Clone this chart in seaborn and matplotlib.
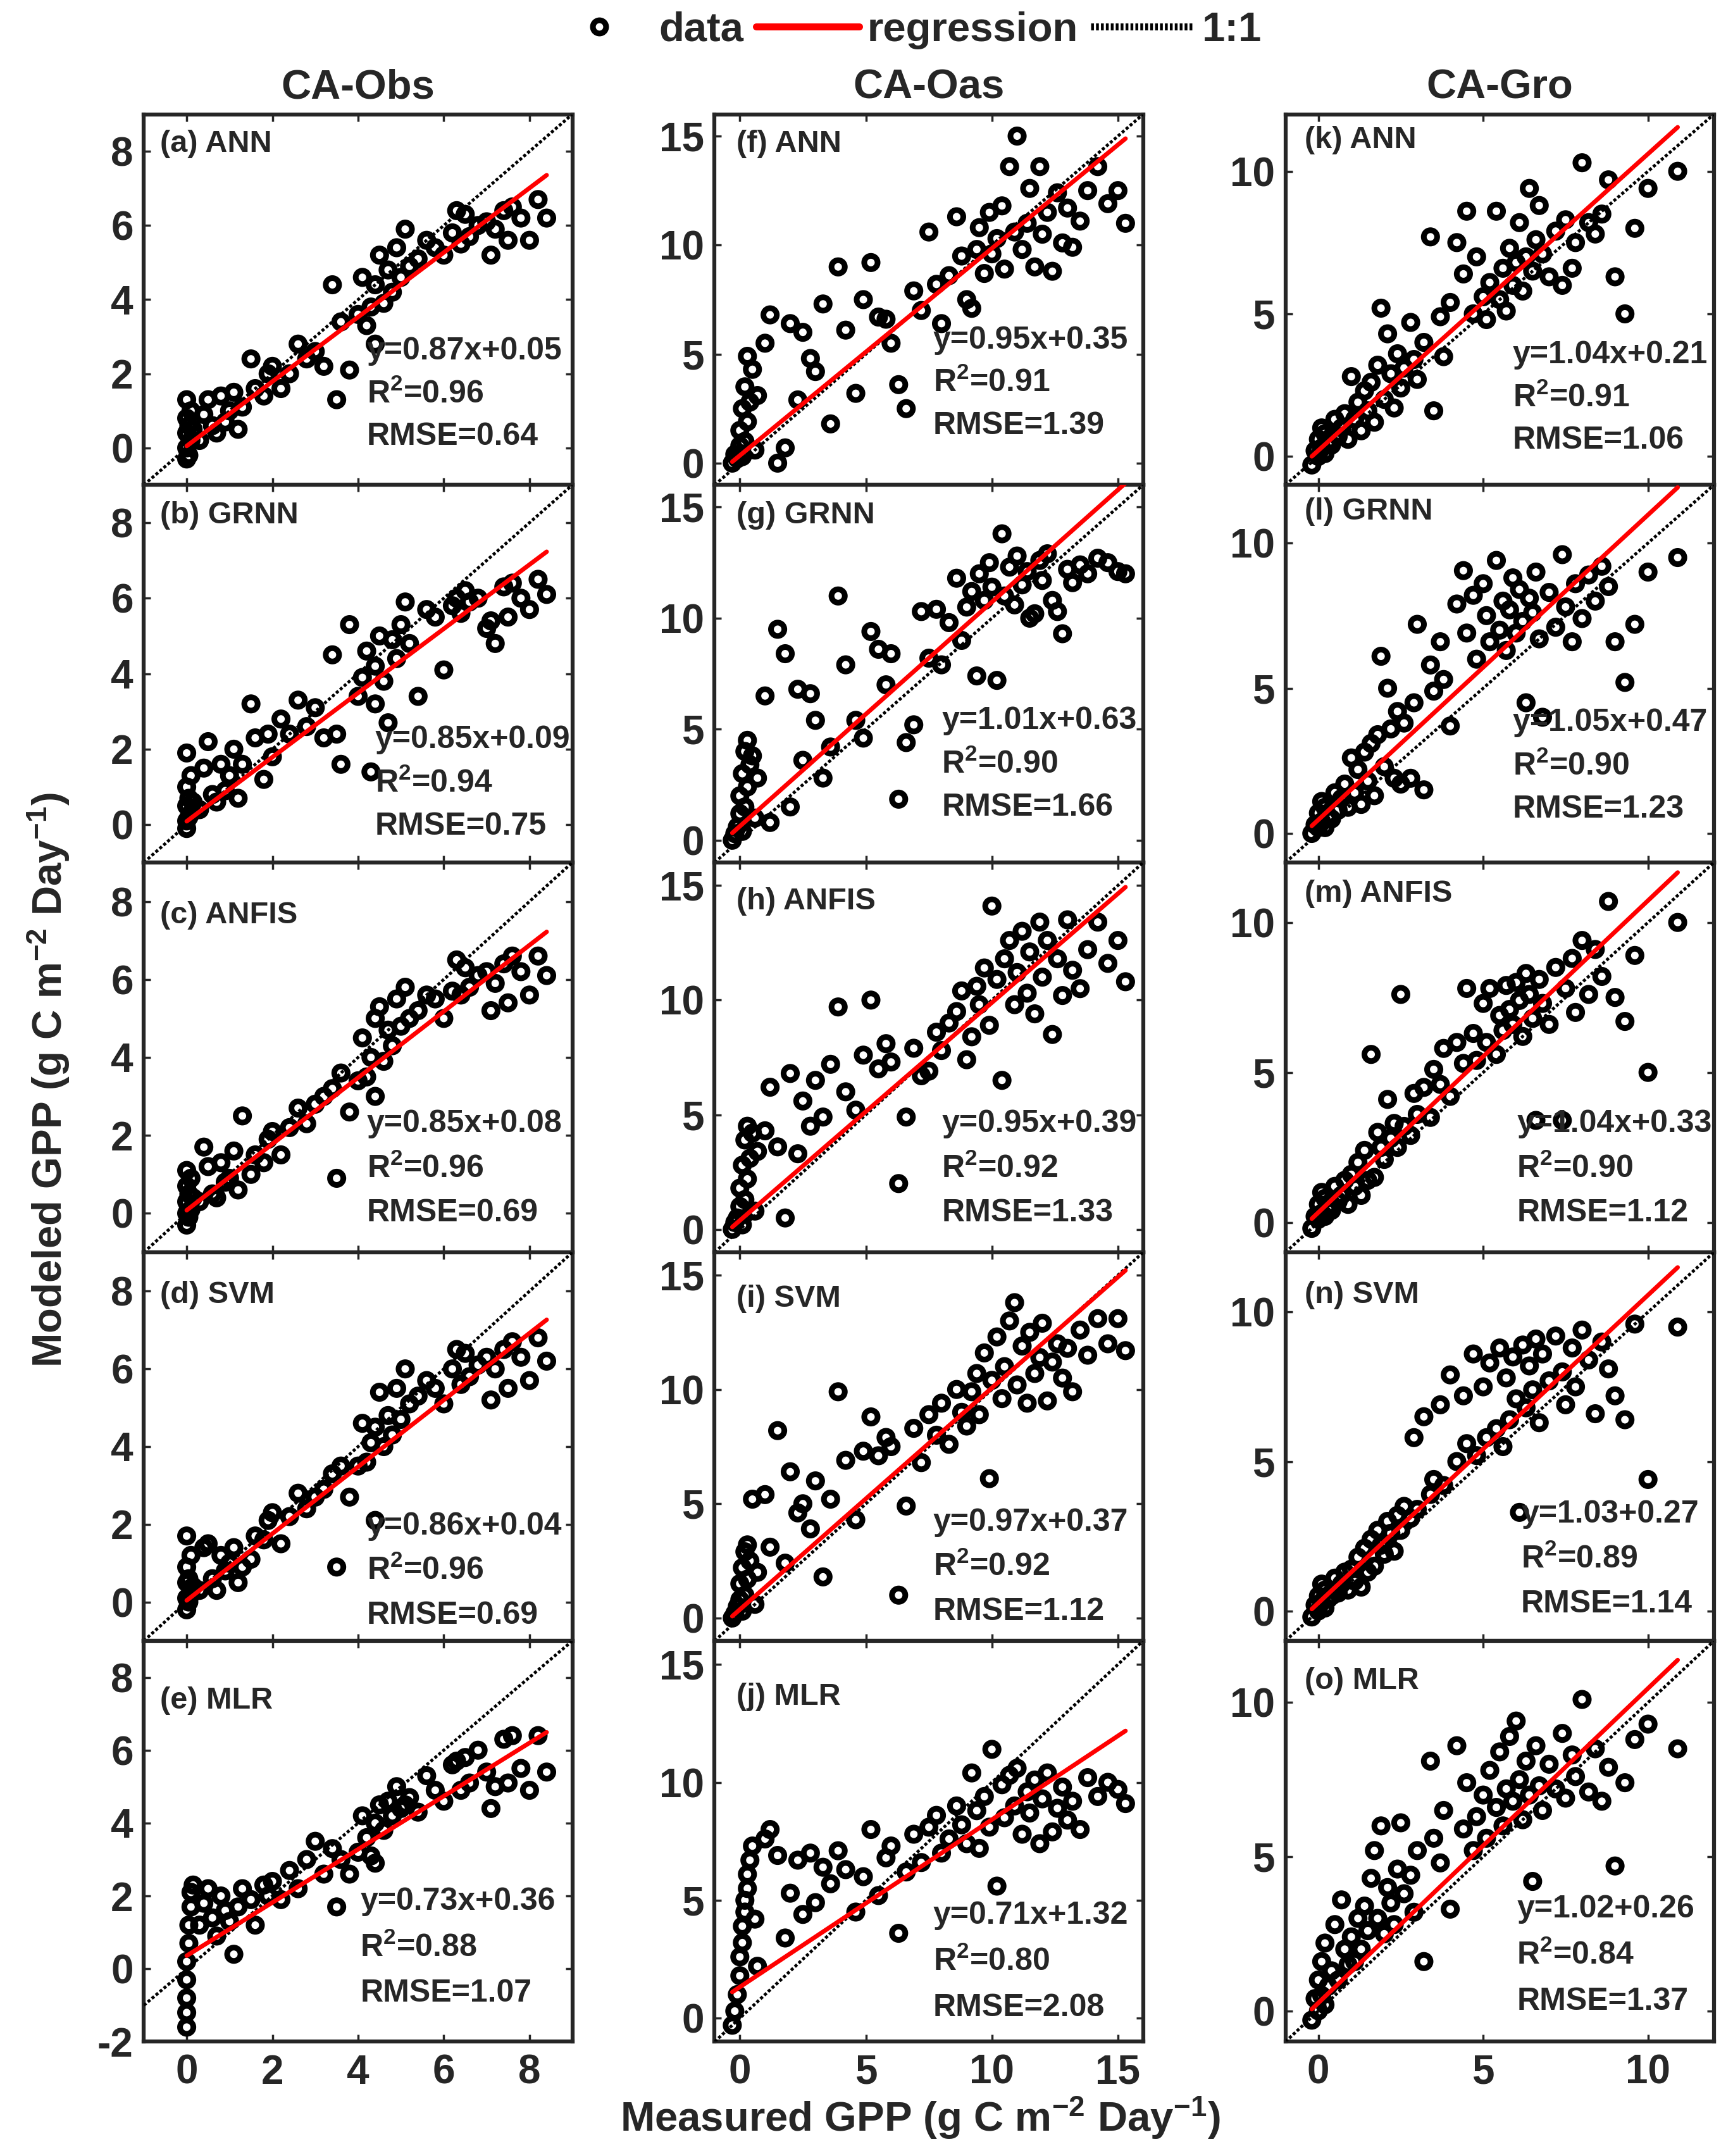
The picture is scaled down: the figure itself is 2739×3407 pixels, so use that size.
import numpy as np
import seaborn as sns
import matplotlib.pyplot as plt
from matplotlib.lines import Line2D

sites = ['CA-Obs', 'CA-Oas', 'CA-Gro']
models = ['ANN', 'GRNN', 'ANFIS', 'SVM', 'MLR']

# measured GPP, one array per site (shared by all five models)
obs_x = [0.0, 0.0, 0.0, 0.0, 0.0, 0.05, 0.05, 0.1, 0.1, 0.15,
         0.3, 0.4, 0.5, 0.6, 0.7, 0.8, 0.9, 1.0, 1.1, 1.2, 1.3, 1.5, 1.6, 1.8, 1.9,
         2.0, 2.2, 2.4, 2.6, 2.8, 3.0, 3.2, 3.4, 3.6, 3.8,
         4.0, 4.1, 4.2, 4.3, 4.4, 4.5, 4.6, 4.7, 4.8, 4.9, 5.0, 5.2, 5.4, 5.6, 5.8,
         6.0, 6.2, 6.4, 6.5, 6.6, 6.8, 7.0, 7.2, 7.4, 7.5, 7.6, 7.8, 8.0, 8.2, 8.4,
         3.5, 4.4, 5.1, 6.3, 7.1]
obs_ann = [-0.3, 0.0, 0.4, 0.8, 1.3, -0.2, 0.6, 0.2, 1.0, 0.5,
           0.2, 0.9, 1.3, 0.6, 0.4, 1.4, 0.7, 1.0, 1.5, 0.5, 1.1, 2.4, 1.6, 1.4, 2.0,
           2.2, 1.6, 2.0, 2.8, 2.4, 2.6, 2.2, 4.4, 3.4, 2.1,
           3.6, 4.6, 3.3, 3.8, 4.4, 5.2, 3.9, 4.8, 4.2, 5.4, 4.6, 4.9, 5.1, 5.6, 5.4,
           5.2, 5.8, 5.5, 6.3, 5.7, 6.0, 6.1, 5.9, 6.4, 5.6, 6.5, 6.2, 5.6, 6.7, 6.2,
           1.3, 2.8, 5.9, 6.4, 5.2]
obs_grnn = [-0.1, 0.1, 0.5, 1.0, 1.9, 0.2, 0.7, 0.3, 1.3, 0.6,
            0.4, 1.5, 2.2, 0.8, 0.6, 1.6, 0.9, 1.3, 2.0, 0.7, 1.6, 3.2, 2.3, 1.2, 2.4,
            1.8, 2.8, 2.4, 3.3, 2.6, 3.1, 2.3, 4.5, 1.6, 5.3,
            3.4, 3.9, 4.6, 1.4, 4.2, 5.0, 3.8, 2.7, 4.9, 4.4, 5.3, 4.8, 3.4, 5.7, 5.5,
            4.1, 5.8, 5.6, 6.2, 5.9, 6.0, 5.2, 4.8, 6.3, 5.5, 6.4, 6.0, 5.7, 6.5, 6.1,
            2.4, 3.2, 5.9, 6.0, 5.4]
obs_anfis = [-0.3, 0.0, 0.3, 0.7, 1.1, -0.1, 0.5, 0.1, 0.9, 0.4,
             0.3, 1.7, 1.2, 0.5, 0.4, 1.3, 0.8, 0.9, 1.6, 0.6, 2.5, 1.0, 1.5, 1.3, 1.9,
             2.1, 1.5, 2.2, 2.7, 2.3, 2.8, 3.0, 3.2, 3.6, 2.6,
             3.4, 4.5, 3.5, 4.0, 5.0, 5.3, 3.9, 4.7, 4.3, 5.5, 4.8, 5.0, 5.2, 5.6, 5.5,
             5.0, 5.7, 5.6, 6.3, 5.8, 6.1, 6.2, 5.9, 6.4, 5.4, 6.6, 6.2, 5.6, 6.6, 6.1,
             0.9, 3.0, 5.8, 6.5, 5.2]
obs_svm = [-0.2, 0.1, 0.5, 0.9, 1.7, 0.0, 0.6, 0.2, 1.2, 0.4,
           0.3, 1.4, 1.5, 0.6, 0.3, 1.2, 0.8, 1.0, 1.4, 0.5, 0.9, 1.1, 1.7, 1.6, 2.1,
           2.3, 1.5, 2.2, 2.8, 2.4, 2.7, 2.9, 3.3, 3.5, 2.7,
           3.5, 4.6, 3.6, 4.1, 4.5, 5.4, 4.0, 4.8, 4.3, 5.5, 4.7, 5.1, 5.3, 5.7, 5.5,
           5.1, 6.0, 5.6, 6.4, 5.8, 6.1, 6.3, 6.0, 6.5, 5.5, 6.7, 6.3, 5.7, 6.8, 6.2,
           0.9, 2.1, 6.0, 6.5, 5.2]
obs_mlr = [-1.6, -1.2, -0.8, -0.3, 0.2, 0.7, 1.2, 1.7, 2.1, 2.3,
           1.2, 1.8, 2.2, 1.4, 0.9, 2.0, 1.6, 1.3, 0.4, 1.7, 2.2, 1.9, 1.2, 2.3, 2.0,
           2.4, 1.9, 2.7, 2.2, 3.0, 3.5, 2.6, 3.3, 3.0, 2.6,
           3.2, 4.2, 3.6, 3.1, 4.0, 4.5, 3.8, 4.6, 4.2, 5.0, 4.4, 4.7, 4.3, 5.3, 4.9,
           4.6, 5.6, 4.9, 5.8, 5.1, 6.0, 5.4, 5.0, 6.3, 5.1, 6.4, 5.5, 4.9, 6.4, 5.4,
           1.7, 2.9, 4.5, 5.7, 4.4]

oas_x = [-0.3, -0.2, -0.1, 0.0, 0.0, 0.1, 0.1, 0.2, 0.2, 0.3, 0.3, 0.4, 0.5, 0.6, 0.7,
         1.0, 1.2, 1.5, 1.8, 2.0, 2.3, 2.5, 2.8, 3.0, 3.3, 3.6, 3.9, 4.2, 4.6, 4.9,
         5.2, 5.5, 5.8, 6.0, 6.3, 6.6, 6.9, 7.2, 7.5, 7.8, 8.0, 8.3, 8.6, 8.8, 9.0,
         9.2, 9.4, 9.5, 9.7, 9.9, 10.0, 10.2, 10.4, 10.5, 10.7, 10.9, 11.0, 11.2, 11.4,
         11.5, 11.7, 11.9, 12.0, 12.2, 12.4, 12.6, 12.8, 13.0, 13.2, 13.5,
         13.8, 14.2, 14.6, 15.0, 15.3]
oas_ann = [0.0, 0.4, 0.2, 0.8, 1.5, 0.3, 2.5, 1.0, 3.5, 1.9, 4.9, 2.8, 4.3, 0.6, 3.1,
           5.5, 6.8, 0.0, 0.7, 6.4, 2.9, 6.0, 4.8, 4.2, 7.3, 1.8, 9.0, 6.1, 3.2, 7.5,
           9.2, 6.7, 6.6, 5.5, 3.6, 2.5, 7.9, 7.0, 10.6, 8.2, 6.4, 8.6, 11.3, 9.5, 7.5,
           7.1, 9.8, 10.8, 8.7, 11.5, 9.6, 10.3, 11.8, 8.9, 13.6, 10.6, 15.0, 9.8, 11.0,
           12.6, 9.0, 13.6, 10.5, 11.5, 8.8, 12.4, 10.1, 11.7, 9.9, 11.1,
           12.5, 13.6, 11.9, 12.5, 11.0]
oas_grnn = [0.0, 0.3, 0.6, 1.2, 2.0, 0.4, 3.0, 1.5, 4.0, 2.4, 4.5, 3.4, 3.8, 1.0, 2.8,
            6.5, 0.8, 9.5, 8.4, 1.5, 6.8, 3.6, 6.6, 5.4, 2.8, 4.2, 11.0, 7.9, 5.4, 4.6,
            9.4, 8.6, 7.0, 8.4, 1.85, 4.4, 5.2, 10.3, 8.2, 10.4, 7.9, 9.8, 11.8, 9.0, 10.5,
            11.2, 7.4, 12.0, 10.8, 12.5, 11.4, 7.2, 13.8, 11.0, 12.3, 10.6, 12.8, 11.5, 12.1,
            10.0, 10.2, 12.6, 11.7, 12.9, 10.8, 10.3, 9.3, 12.2, 11.6, 12.4,
            12.0, 12.7, 12.5, 12.1, 12.0]
oas_anfis = [0.0, 0.3, 0.5, 1.0, 1.8, 0.2, 2.8, 1.3, 3.9, 2.2, 4.5, 3.1, 4.2, 0.8, 3.4,
             4.3, 6.2, 3.6, 0.5, 6.8, 3.3, 5.6, 4.5, 6.5, 4.9, 7.2, 9.7, 6.0, 5.2, 7.6,
             10.0, 7.0, 8.1, 7.3, 2.0, 4.9, 7.9, 6.7, 6.9, 8.6, 7.8, 9.0, 9.5, 10.4, 7.4,
             8.4, 10.6, 9.8, 11.4, 8.9, 14.1, 10.9, 6.5, 11.8, 12.6, 9.8, 11.2, 13.0, 10.3,
             12.1, 9.4, 13.4, 11.0, 12.6, 8.5, 11.8, 10.2, 13.5, 11.3, 10.5,
             12.2, 13.4, 11.6, 12.6, 10.8]
oas_svm = [0.0, 0.2, 0.5, 0.8, 1.5, 0.3, 2.2, 1.0, 2.9, 1.7, 3.2, 2.5, 5.2, 0.6, 2.0,
           5.4, 3.1, 8.2, 2.4, 6.4, 4.6, 5.0, 3.9, 6.0, 1.8, 5.2, 9.9, 6.9, 4.3, 7.3,
           8.8, 7.1, 7.9, 7.5, 1.0, 4.9, 8.3, 6.8, 8.9, 8.0, 9.4, 7.6, 10.0, 9.0, 8.4,
           9.9, 10.7, 8.9, 11.6, 6.1, 10.4, 12.3, 9.6, 11.0, 13.0, 13.8, 10.2, 11.9, 9.4,
           12.5, 10.7, 11.4, 12.9, 9.5, 11.2, 12.0, 10.5, 11.8, 9.9, 12.6,
           11.5, 13.1, 12.0, 13.1, 11.7]
oas_mlr = [-0.3, 0.3, 1.0, 1.8, 2.6, 3.2, 3.9, 4.5, 5.0, 5.5, 6.1, 6.7, 7.3, 4.2, 2.2,
           7.6, 8.0, 6.9, 3.4, 5.3, 6.7, 4.4, 7.0, 4.9, 6.4, 5.7, 7.1, 6.3, 4.5, 6.0,
           8.0, 5.2, 6.8, 7.3, 3.6, 6.2, 7.8, 6.6, 8.1, 8.6, 7.0, 7.6, 9.0, 8.2, 7.4,
           10.4, 8.8, 7.2, 9.4, 8.1, 11.4, 5.6, 9.9, 8.5, 10.3, 9.0, 10.6, 7.8, 9.6,
           8.7, 10.1, 7.4, 9.3, 10.4, 7.9, 8.9, 9.8, 8.4, 9.2, 8.0,
           10.2, 9.4, 10.0, 9.7, 9.1]

gro_x = [-0.2, -0.1, 0.0, 0.0, 0.1, 0.1, 0.2, 0.2, 0.3, 0.4, 0.5, 0.6, 0.7, 0.8, 0.9,
         1.0, 1.1, 1.2, 1.3, 1.4, 1.5, 1.6, 1.7, 1.8, 1.9, 2.0, 2.1, 2.2, 2.3, 2.4,
         2.5, 2.6, 2.8, 2.9, 3.0,
         3.2, 3.4, 3.5, 3.7, 3.8, 4.0, 4.2, 4.4, 4.5, 4.7, 4.8, 5.0,
         5.1, 5.2, 5.4, 5.5, 5.6, 5.7, 5.8, 5.9, 6.0, 6.1, 6.2, 6.3, 6.4, 6.5, 6.6,
         6.7, 6.8, 7.0, 7.2, 7.4, 7.5, 7.7, 7.8, 8.0, 8.2, 8.4, 8.6, 8.8,
         9.0, 9.3, 9.6, 10.0, 10.9]
gro_ann = [-0.3, 0.2, 0.0, 0.6, 0.3, 1.0, 0.1, 0.8, 0.5, 0.4, 1.3, 0.7, 1.0, 1.5, 0.6,
           2.8, 1.3, 1.9, 0.9, 2.3, 1.6, 2.6, 1.2, 3.2, 5.2, 2.0, 4.3, 2.9, 1.7, 3.6,
           2.4, 3.1, 4.7, 3.4, 2.7,
           4.0, 7.7, 1.6, 4.9, 3.5, 5.4, 7.5, 6.4, 8.6, 5.0, 7.0, 5.6,
           4.8, 6.1, 8.6, 5.5, 6.6, 5.1, 7.3, 6.0, 6.8, 8.2, 5.8, 7.0, 9.4, 6.5, 7.6,
           8.8, 7.1, 6.3, 7.9, 6.0, 8.3, 6.6, 7.5, 10.3, 8.2, 7.8, 8.5, 9.7,
           6.3, 5.0, 8.0, 9.4, 10.0]
gro_grnn = [0.0, 0.3, 0.2, 0.7, 0.4, 1.1, 0.2, 0.9, 0.6, 0.5, 1.4, 0.8, 1.2, 1.7, 0.9,
            2.6, 1.4, 2.2, 1.0, 2.8, 1.8, 3.1, 1.3, 3.4, 6.1, 2.3, 5.0, 3.6, 1.9, 4.2,
            1.7, 3.8, 1.9, 4.5, 7.2,
            1.5, 5.8, 4.9, 6.6, 5.3, 3.7, 7.9, 9.05, 6.9, 8.2, 6.0, 8.6,
            7.5, 6.6, 9.4, 7.0, 8.0, 6.3, 7.7, 8.8, 6.9, 8.4, 7.3, 4.5, 8.1, 7.6, 9.0,
            6.7, 4.0, 8.3, 7.1, 9.6, 7.8, 6.6, 8.6, 7.4, 8.9, 8.0, 9.2, 8.5,
            6.6, 5.2, 7.2, 9.0, 9.5]
gro_anfis = [-0.2, 0.2, 0.1, 0.6, 0.3, 1.0, 0.2, 0.8, 0.5, 0.4, 1.2, 0.7, 0.9, 1.4, 0.6,
             1.6, 1.2, 2.0, 0.9, 2.4, 1.4, 5.6, 1.5, 3.0, 2.5, 2.1, 4.1, 2.8, 3.3, 2.5,
             7.6, 3.2, 2.9, 4.3, 3.6,
             4.5, 3.5, 5.1, 4.6, 5.8, 4.2, 6.0, 5.3, 7.8, 6.3, 5.4, 7.3,
             6.0, 7.8, 5.6, 6.9, 6.4, 7.9, 7.1, 6.6, 8.0, 7.4, 6.2, 8.3, 7.6, 6.8, 3.4,
             8.1, 7.3, 6.6, 8.5, 3.4, 7.8, 8.8, 7.0, 9.4, 7.6, 9.1, 8.2, 10.7,
             7.5, 6.7, 8.9, 5.0, 10.0]
gro_svm = [-0.2, 0.2, 0.0, 0.5, 0.3, 0.9, 0.1, 0.7, 0.4, 0.5, 1.1, 0.6, 0.9, 1.3, 0.7,
           1.4, 1.0, 1.8, 0.8, 2.1, 1.3, 2.4, 1.5, 2.7, 2.2, 1.9, 3.0, 2.6, 2.0, 3.2,
           2.7, 3.5, 3.1, 5.8, 3.4,
           6.5, 3.9, 4.4, 6.9, 4.2, 7.9, 5.0, 7.2, 5.6, 8.6, 5.2, 7.5,
           5.8, 8.3, 6.1, 8.8, 5.5, 7.8, 6.4, 8.5, 7.1, 3.3, 8.9, 6.8, 8.2, 7.4, 9.1,
           6.3, 8.6, 7.7, 9.2, 8.0, 6.9, 8.8, 7.5, 9.4, 8.4, 6.6, 9.0, 8.1,
           7.2, 6.4, 9.6, 4.4, 9.5]
gro_mlr = [-0.3, 0.4, 0.0, 1.0, 0.5, 1.6, 0.2, 2.2, 0.8, 1.3, 2.8, 1.0, 3.6, 2.0, 1.5,
           2.4, 1.6, 3.0, 2.0, 3.4, 2.6, 4.3, 5.2, 3.0, 6.0, 2.5, 4.0, 3.5, 2.8, 4.6,
           6.1, 3.8, 4.4, 3.2, 5.2,
           1.6, 8.1, 5.6, 4.8, 6.5, 3.3, 8.6, 5.9, 7.4, 5.2, 6.3, 7.0,
           5.6, 7.8, 6.6, 8.4, 6.0, 7.2, 8.9, 6.8, 9.4, 7.5, 6.2, 8.1, 7.0, 4.2, 8.6,
           7.3, 6.5, 8.0, 7.2, 9.0, 6.9, 8.3, 7.6, 10.1, 7.1, 8.5, 6.8, 7.9,
           4.7, 7.4, 8.8, 9.3, 8.5]

measured = [obs_x, oas_x, gro_x]
modeled = [[obs_ann, obs_grnn, obs_anfis, obs_svm, obs_mlr],
           [oas_ann, oas_grnn, oas_anfis, oas_svm, oas_mlr],
           [gro_ann, gro_grnn, gro_anfis, gro_svm, gro_mlr]]

# regression slope / intercept and stats per site (rows = models)
slopes = [[0.87, 0.85, 0.85, 0.86, 0.73],
          [0.95, 1.01, 0.95, 0.97, 0.71],
          [1.04, 1.05, 1.04, 1.03, 1.02]]
intercepts = [[0.05, 0.09, 0.08, 0.04, 0.36],
              [0.35, 0.63, 0.39, 0.37, 1.32],
              [0.21, 0.47, 0.33, 0.27, 0.26]]
eq_text = [['y=0.87x+0.05', 'y=0.85x+0.09', 'y=0.85x+0.08', 'y=0.86x+0.04', 'y=0.73x+0.36'],
           ['y=0.95x+0.35', 'y=1.01x+0.63', 'y=0.95x+0.39', 'y=0.97x+0.37', 'y=0.71x+1.32'],
           ['y=1.04x+0.21', 'y=1.05x+0.47', 'y=1.04x+0.33', 'y=1.03+0.27', 'y=1.02+0.26']]
r2 = [['0.96', '0.94', '0.96', '0.96', '0.88'],
      ['0.91', '0.90', '0.92', '0.92', '0.80'],
      ['0.91', '0.90', '0.90', '0.89', '0.84']]
rmse = [['0.64', '0.75', '0.69', '0.69', '1.07'],
        ['1.39', '1.66', '1.33', '1.12', '2.08'],
        ['1.06', '1.23', '1.12', '1.14', '1.37']]

letters = 'abcdefghijklmno'
xticks = [[0, 2, 4, 6, 8], [0, 5, 10, 15], [0, 5, 10]]
lims = [(-1, 9), (-1, 16), (-1, 12)]

# placement of panel texts (axes fraction)
label_y = [[0.92, 0.92, 0.865, 0.89, 0.85],
           [0.92, 0.92, 0.90, 0.88, 0.86],
           [0.93, 0.93, 0.92, 0.89, 0.90]]
label_x = [0.038, 0.051, 0.045]
stat_pos = [[(0.52, 0.13), (0.54, 0.095), (0.52, 0.10), (0.52, 0.065), (0.505, 0.12)],
            [(0.51, 0.16), (0.53, 0.145), (0.53, 0.10), (0.51, 0.075), (0.51, 0.085)],
            [(0.53, 0.12), (0.53, 0.14), (0.54, 0.10), (0.55, 0.095), (0.54, 0.10)]]

sns.set_style('ticks')
plt.rcParams['font.family'] = ['Liberation Sans', 'DejaVu Sans']
plt.rcParams['font.weight'] = 'bold'
plt.rcParams['axes.unicode_minus'] = False
plt.rcParams['mathtext.fontset'] = 'custom'
plt.rcParams['mathtext.rm'] = 'Liberation Sans:bold'
plt.rcParams['mathtext.it'] = 'Liberation Sans:bold'
plt.rcParams['mathtext.bf'] = 'Liberation Sans:bold'
plt.rcParams['mathtext.default'] = 'rm'

fig, axes = plt.subplots(5, 3, figsize=(27.39, 34.07), dpi=100,
                         gridspec_kw=dict(height_ratios=[270, 275, 284, 283, 292]))
fig.subplots_adjust(left=0.083, right=0.989, top=0.947, bottom=0.053,
                    hspace=0, wspace=0.332)

for j, site in enumerate(sites):
    x = np.array(measured[j])
    for i, model in enumerate(models):
        ax = axes[i, j]
        y = np.array(modeled[j][i])
        sns.scatterplot(x=x, y=y, ax=ax, s=230, marker='o', facecolor='none',
                        edgecolor='black', linewidth=6.5, zorder=2, legend=False)
        ax.axline((0, 0), slope=1, color='black', lw=3.5, ls=(0, (1, 0.7)), zorder=3)
        xr = np.array([x.min(), x.max()])
        ax.plot(xr, slopes[j][i] * xr + intercepts[j][i], color='red', lw=5, zorder=4)

        lo, hi = lims[j]
        ax.set_xlim(lo, hi)
        if j == 0 and i == 4:
            ax.set_ylim(-2, 9)
            ax.set_yticks([-2, 0, 2, 4, 6, 8])
        else:
            ax.set_ylim(lo, hi)
            ax.set_yticks(xticks[j])
        ax.set_xticks(xticks[j])
        ax.set_xlabel('')
        ax.set_ylabel('')
        for sp in ax.spines.values():
            sp.set_linewidth(4.5)
            sp.set_visible(True)
        ax.tick_params(direction='in', length=8, width=2.5, top=True, right=True,
                       labelsize=46)
        ax.tick_params(axis='y', pad=12)
        ax.tick_params(axis='x', pad=14, labelbottom=(i == 4))

        ax.text(label_x[j], label_y[j][i], '(%s) %s' % (letters[j * 5 + i], model),
                transform=ax.transAxes, fontsize=35, fontweight='bold', va='center')
        sx, sy = stat_pos[j][i]
        ax.text(sx, sy + 0.23, eq_text[j][i], transform=ax.transAxes,
                fontsize=36, fontweight='bold', va='center')
        ax.text(sx, sy + 0.115, 'R$^{2}$=' + r2[j][i], transform=ax.transAxes,
                fontsize=36, fontweight='bold', va='center')
        ax.text(sx, sy, 'RMSE=' + rmse[j][i], transform=ax.transAxes,
                fontsize=36, fontweight='bold', va='center')

    axes[0, j].set_title(site, fontsize=47, fontweight='bold', pad=18)

fig.text(0.028, 0.499, 'Modeled GPP (g C m$^{-2}$ Day$^{-1}$)', rotation=90,
         ha='center', va='center', fontsize=47, fontweight='bold')
fig.text(0.531, 0.007, 'Measured GPP (g C m$^{-2}$ Day$^{-1}$)',
         ha='center', va='bottom', fontsize=47, fontweight='bold')

handles = [Line2D([], [], marker='o', ls='none', mfc='none', mec='black', mew=6.5, ms=15),
           Line2D([], [], color='red', lw=8),
           Line2D([], [], color='black', lw=8, ls=(0, (0.4, 0.3)))]
fig.legend(handles, ['data', 'regression', '1:1'], loc='center',
           bbox_to_anchor=(0.522, 0.986), ncol=3, frameon=False, fontsize=47,
           handlelength=2.5, handletextpad=0.2, columnspacing=0.3)

fig.savefig('out.png', dpi=100)
